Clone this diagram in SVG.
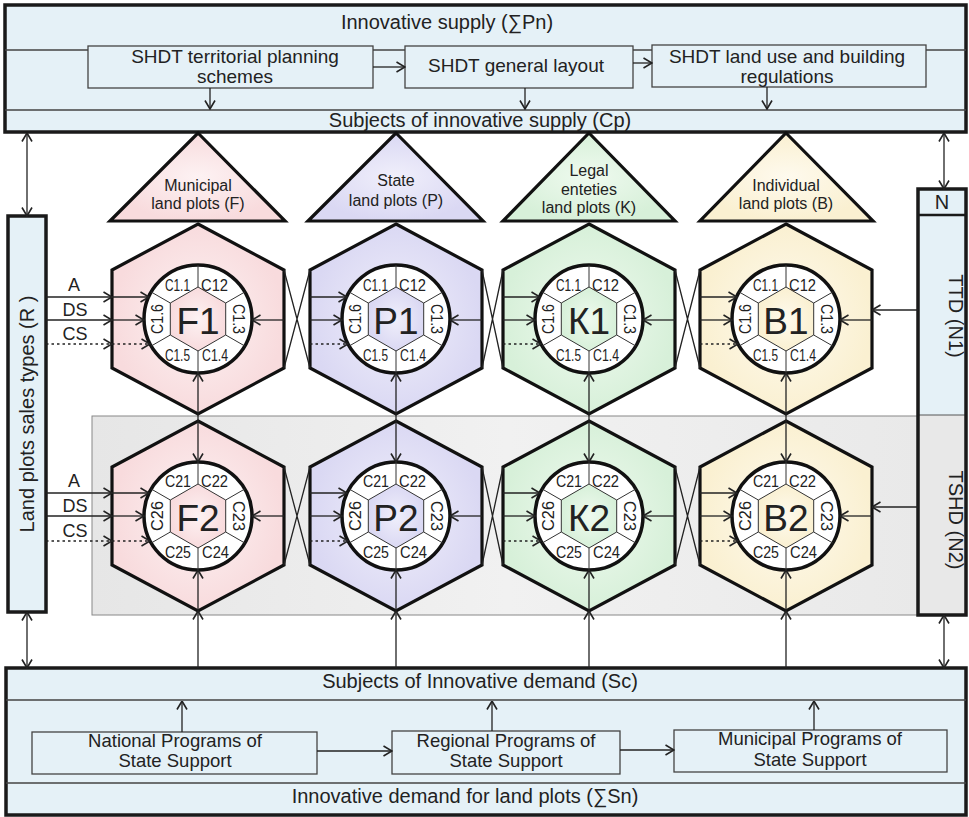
<svg xmlns="http://www.w3.org/2000/svg" width="969" height="817" viewBox="0 0 969 817">
<defs>
<style>
text{font-family:"Liberation Sans",Arial,sans-serif;fill:#222}
.big{font-size:20px}
.t19{font-size:19px}
.t18{font-size:18.5px}
.tri{font-size:16px}
.lab{font-size:18px}
.seg{font-size:17px}
.hl{font-size:37px}
.bx{fill:#e5f1f7;stroke:#1a1a1a;stroke-width:3.5}
.ib{fill:#e5f1f7;stroke:#444;stroke-width:1.3}
.sep{stroke:#444;stroke-width:1.3;fill:none}
.ln{stroke:#222;stroke-width:1.3;fill:none}
.ar{marker-end:url(#ah)}
.ar2{marker-start:url(#ah);marker-end:url(#ah)}
.dot{stroke-dasharray:2.5 3}
.hex{stroke:#111;stroke-width:3.2}
</style>
<marker id="ah" viewBox="0 0 10 12" refX="9.5" refY="6" markerWidth="10" markerHeight="12" markerUnits="userSpaceOnUse" orient="auto-start-reverse"><path d="M1,1 L9.5,6 L1,11" fill="none" stroke="#222" stroke-width="1.6"/></marker>
<radialGradient id="gF"><stop offset="0" stop-color="#fdf2f3"/><stop offset="1" stop-color="#f8dbdd"/></radialGradient>
<radialGradient id="gP"><stop offset="0" stop-color="#f0effb"/><stop offset="1" stop-color="#dad8f3"/></radialGradient>
<radialGradient id="gK"><stop offset="0" stop-color="#effaef"/><stop offset="1" stop-color="#d7f0d9"/></radialGradient>
<radialGradient id="gB"><stop offset="0" stop-color="#fefaee"/><stop offset="1" stop-color="#faf0d1"/></radialGradient>
<linearGradient id="gG" x1="0" y1="0" x2="1" y2="0"><stop offset="0" stop-color="#e6e6e6"/><stop offset="0.5" stop-color="#f1f1f1"/><stop offset="1" stop-color="#e9e9e9"/></linearGradient>
<path id="hexS" class="hex" d="M0,-95 L86,-49 L86,49 L0,95 L-86,49 L-86,-49Z"/>
<g id="cell">
<circle r="54" fill="#fff" stroke="#111" stroke-width="3.5"/>
<path d="M0,-32 L27.7,-16 L27.7,16 L0,32 L-27.7,16 L-27.7,-16Z" stroke="#333" stroke-width="1"/>
<path d="M0,-32V-54 M27.7,-16L46.8,-27 M27.7,16L46.8,27 M0,32V54 M-27.7,16L-46.8,27 M-27.7,-16L-46.8,-27" stroke="#333" stroke-width="1" fill="none"/>
</g>
</defs>
<rect width="969" height="817" fill="#fff"/>

<g id="tshd-band">
<rect x="92" y="416" width="830" height="199" fill="url(#gG)" stroke="#888" stroke-width="1"/>
</g>

<g id="innovative-supply">
<rect class="bx" x="5" y="5" width="961" height="127"/>
<path class="sep" d="M5,50H966 M5,110H966"/>
<text class="big" x="447" y="29" text-anchor="middle">Innovative supply (∑Pn)</text>
<text class="big" x="480" y="127" text-anchor="middle">Subjects of innovative supply (Cp)</text>
</g>
<g id="shdt-planning">
<rect class="ib" x="88" y="46" width="285" height="42"/>
<text class="t19" x="235" y="63" text-anchor="middle">SHDT territorial planning</text>
<text class="t19" x="235" y="83" text-anchor="middle">schemes</text>
</g>
<g id="shdt-layout">
<rect class="ib" x="405" y="46" width="228" height="42"/>
<text class="t19" x="516" y="72" text-anchor="middle">SHDT general layout</text>
</g>
<g id="shdt-regulations">
<rect class="ib" x="652" y="45" width="274" height="42"/>
<text class="t19" x="787" y="63" text-anchor="middle">SHDT land use and building</text>
<text class="t19" x="787" y="83" text-anchor="middle">regulations</text>
</g>

<g id="innovative-demand">
<rect class="bx" x="6" y="668" width="960" height="147"/>
<path class="sep" d="M6,700H966 M6,783H966"/>
<text class="big" x="480" y="688" text-anchor="middle">Subjects of Innovative demand (Sc)</text>
<text class="big" x="465" y="803" text-anchor="middle">Innovative demand for land plots (∑Sn)</text>
</g>
<g id="national">
<rect class="ib" x="32" y="732" width="285" height="42"/>
<text class="t18" x="175" y="747" text-anchor="middle">National Programs of</text>
<text class="t18" x="175" y="767" text-anchor="middle">State Support</text>
</g>
<g id="regional">
<rect class="ib" x="392" y="731" width="228" height="43"/>
<text class="t18" x="506" y="747" text-anchor="middle">Regional Programs of</text>
<text class="t18" x="506" y="767" text-anchor="middle">State Support</text>
</g>
<g id="municipal-programs">
<rect class="ib" x="674" y="730" width="273" height="42"/>
<text class="t18" x="810" y="745" text-anchor="middle">Municipal Programs of</text>
<text class="t18" x="810" y="766" text-anchor="middle">State Support</text>
</g>

<g id="sales-types">
<rect class="bx" x="8" y="216" width="38" height="396"/>
<text class="big" transform="translate(27,414) rotate(-90)" x="0" y="7" text-anchor="middle">Land plots sales types (R )</text>
</g>

<g id="n-panel">
<rect x="918" y="189" width="48" height="226" fill="#e5f1f7"/>
<rect x="918" y="415" width="48" height="200" fill="#e8e8e8"/>
<path d="M918,215H966" stroke="#1a1a1a" stroke-width="2.5"/>
<path d="M918,415H966" stroke="#555" stroke-width="1"/>
<rect x="918" y="189" width="48" height="426" fill="none" stroke="#1a1a1a" stroke-width="3.5"/>
<text class="big" x="942" y="209" text-anchor="middle">N</text>
<text class="big" transform="translate(942,316) rotate(90)" x="0" y="-7" text-anchor="middle">TTD (N1)</text>
<text class="big" transform="translate(942,520) rotate(90)" x="0" y="-7" text-anchor="middle">TSHD (N2)</text>
</g>

<g id="tri-F">
<path d="M198,133 L285,221 L110,221Z" fill="url(#gF)" stroke="#111" stroke-width="3.2"/>
<text class="tri" x="198" y="191" text-anchor="middle">Municipal</text>
<text class="tri" x="198" y="209" text-anchor="middle">land plots (F)</text>
</g>
<g id="tri-P">
<path d="M396,133 L483,221 L308,221Z" fill="url(#gP)" stroke="#111" stroke-width="3.2"/>
<text class="tri" x="396" y="186" text-anchor="middle">State</text>
<text class="tri" x="396" y="206" text-anchor="middle">land plots (P)</text>
</g>
<g id="tri-K">
<path d="M589,133 L675,221 L503,221Z" fill="url(#gK)" stroke="#111" stroke-width="3.2"/>
<text class="tri" x="589" y="176" text-anchor="middle">Legal</text>
<text class="tri" x="589" y="195" text-anchor="middle">enteties</text>
<text class="tri" x="589" y="213" text-anchor="middle">land plots (K)</text>
</g>
<g id="tri-B">
<path d="M786,133 L873,221 L700,221Z" fill="url(#gB)" stroke="#111" stroke-width="3.2"/>
<text class="tri" x="786" y="191" text-anchor="middle">Individual</text>
<text class="tri" x="786" y="209" text-anchor="middle">land plots (B)</text>
</g>

<g id="F1">
<use href="#hexS" x="198" y="319" fill="url(#gF)"/>
<use href="#cell" x="198" y="319" fill="url(#gF)"/>
<text class="hl" x="198" y="334" text-anchor="middle">F1</text>
<text class="seg" x="165" y="291" textLength="25" lengthAdjust="spacingAndGlyphs">C1.1</text>
<text class="seg" x="201" y="291" textLength="27" lengthAdjust="spacingAndGlyphs">C12</text>
<text class="seg" x="165" y="361" textLength="25" lengthAdjust="spacingAndGlyphs">C1.5</text>
<text class="seg" x="202" y="361" textLength="26" lengthAdjust="spacingAndGlyphs">C1.4</text>
<text class="seg" transform="translate(157,319) rotate(-90)" x="-15" y="6" textLength="30" lengthAdjust="spacingAndGlyphs">C1.6</text>
<text class="seg" transform="translate(239,319) rotate(90)" x="-15" y="6" textLength="30" lengthAdjust="spacingAndGlyphs">C1.3</text>
</g>
<g id="P1">
<use href="#hexS" x="396" y="319" fill="url(#gP)"/>
<use href="#cell" x="396" y="319" fill="url(#gP)"/>
<text class="hl" x="396" y="334" text-anchor="middle">P1</text>
<text class="seg" x="363" y="291" textLength="25" lengthAdjust="spacingAndGlyphs">C1.1</text>
<text class="seg" x="399" y="291" textLength="27" lengthAdjust="spacingAndGlyphs">C12</text>
<text class="seg" x="363" y="361" textLength="25" lengthAdjust="spacingAndGlyphs">C1.5</text>
<text class="seg" x="400" y="361" textLength="26" lengthAdjust="spacingAndGlyphs">C1.4</text>
<text class="seg" transform="translate(355,319) rotate(-90)" x="-15" y="6" textLength="30" lengthAdjust="spacingAndGlyphs">C1.6</text>
<text class="seg" transform="translate(437,319) rotate(90)" x="-15" y="6" textLength="30" lengthAdjust="spacingAndGlyphs">C1.3</text>
</g>
<g id="K1">
<use href="#hexS" x="589" y="319" fill="url(#gK)"/>
<use href="#cell" x="589" y="319" fill="url(#gK)"/>
<text class="hl" x="589" y="334" text-anchor="middle">К1</text>
<text class="seg" x="556" y="291" textLength="25" lengthAdjust="spacingAndGlyphs">C1.1</text>
<text class="seg" x="592" y="291" textLength="27" lengthAdjust="spacingAndGlyphs">C12</text>
<text class="seg" x="556" y="361" textLength="25" lengthAdjust="spacingAndGlyphs">C1.5</text>
<text class="seg" x="593" y="361" textLength="26" lengthAdjust="spacingAndGlyphs">C1.4</text>
<text class="seg" transform="translate(548,319) rotate(-90)" x="-15" y="6" textLength="30" lengthAdjust="spacingAndGlyphs">C1.6</text>
<text class="seg" transform="translate(630,319) rotate(90)" x="-15" y="6" textLength="30" lengthAdjust="spacingAndGlyphs">C1.3</text>
</g>
<g id="B1">
<use href="#hexS" x="786" y="319" fill="url(#gB)"/>
<use href="#cell" x="786" y="319" fill="url(#gB)"/>
<text class="hl" x="786" y="334" text-anchor="middle">B1</text>
<text class="seg" x="753" y="291" textLength="25" lengthAdjust="spacingAndGlyphs">C1.1</text>
<text class="seg" x="789" y="291" textLength="27" lengthAdjust="spacingAndGlyphs">C12</text>
<text class="seg" x="753" y="361" textLength="25" lengthAdjust="spacingAndGlyphs">C1.5</text>
<text class="seg" x="790" y="361" textLength="26" lengthAdjust="spacingAndGlyphs">C1.4</text>
<text class="seg" transform="translate(745,319) rotate(-90)" x="-15" y="6" textLength="30" lengthAdjust="spacingAndGlyphs">C1.6</text>
<text class="seg" transform="translate(827,319) rotate(90)" x="-15" y="6" textLength="30" lengthAdjust="spacingAndGlyphs">C1.3</text>
</g>

<g id="F2">
<use href="#hexS" x="198" y="516" fill="url(#gF)"/>
<use href="#cell" x="198" y="516" fill="url(#gF)"/>
<text class="hl" x="198" y="531" text-anchor="middle">F2</text>
<text class="seg" x="165" y="487" textLength="26" lengthAdjust="spacingAndGlyphs">C21</text>
<text class="seg" x="201" y="487" textLength="27" lengthAdjust="spacingAndGlyphs">C22</text>
<text class="seg" x="165" y="558" textLength="26" lengthAdjust="spacingAndGlyphs">C25</text>
<text class="seg" x="202" y="558" textLength="27" lengthAdjust="spacingAndGlyphs">C24</text>
<text class="seg" transform="translate(157,516) rotate(-90)" x="-15" y="6" textLength="30" lengthAdjust="spacingAndGlyphs">C26</text>
<text class="seg" transform="translate(239,516) rotate(90)" x="-15" y="6" textLength="30" lengthAdjust="spacingAndGlyphs">C23</text>
</g>
<g id="P2">
<use href="#hexS" x="396" y="516" fill="url(#gP)"/>
<use href="#cell" x="396" y="516" fill="url(#gP)"/>
<text class="hl" x="396" y="531" text-anchor="middle">P2</text>
<text class="seg" x="363" y="487" textLength="26" lengthAdjust="spacingAndGlyphs">C21</text>
<text class="seg" x="399" y="487" textLength="27" lengthAdjust="spacingAndGlyphs">C22</text>
<text class="seg" x="363" y="558" textLength="26" lengthAdjust="spacingAndGlyphs">C25</text>
<text class="seg" x="400" y="558" textLength="27" lengthAdjust="spacingAndGlyphs">C24</text>
<text class="seg" transform="translate(355,516) rotate(-90)" x="-15" y="6" textLength="30" lengthAdjust="spacingAndGlyphs">C26</text>
<text class="seg" transform="translate(437,516) rotate(90)" x="-15" y="6" textLength="30" lengthAdjust="spacingAndGlyphs">C23</text>
</g>
<g id="K2">
<use href="#hexS" x="589" y="516" fill="url(#gK)"/>
<use href="#cell" x="589" y="516" fill="url(#gK)"/>
<text class="hl" x="589" y="531" text-anchor="middle">К2</text>
<text class="seg" x="556" y="487" textLength="26" lengthAdjust="spacingAndGlyphs">C21</text>
<text class="seg" x="592" y="487" textLength="27" lengthAdjust="spacingAndGlyphs">C22</text>
<text class="seg" x="556" y="558" textLength="26" lengthAdjust="spacingAndGlyphs">C25</text>
<text class="seg" x="593" y="558" textLength="27" lengthAdjust="spacingAndGlyphs">C24</text>
<text class="seg" transform="translate(548,516) rotate(-90)" x="-15" y="6" textLength="30" lengthAdjust="spacingAndGlyphs">C26</text>
<text class="seg" transform="translate(630,516) rotate(90)" x="-15" y="6" textLength="30" lengthAdjust="spacingAndGlyphs">C23</text>
</g>
<g id="B2">
<use href="#hexS" x="786" y="516" fill="url(#gB)"/>
<use href="#cell" x="786" y="516" fill="url(#gB)"/>
<text class="hl" x="786" y="531" text-anchor="middle">B2</text>
<text class="seg" x="753" y="487" textLength="26" lengthAdjust="spacingAndGlyphs">C21</text>
<text class="seg" x="789" y="487" textLength="27" lengthAdjust="spacingAndGlyphs">C22</text>
<text class="seg" x="753" y="558" textLength="26" lengthAdjust="spacingAndGlyphs">C25</text>
<text class="seg" x="790" y="558" textLength="27" lengthAdjust="spacingAndGlyphs">C24</text>
<text class="seg" transform="translate(745,516) rotate(-90)" x="-15" y="6" textLength="30" lengthAdjust="spacingAndGlyphs">C26</text>
<text class="seg" transform="translate(827,516) rotate(90)" x="-15" y="6" textLength="30" lengthAdjust="spacingAndGlyphs">C23</text>
</g>

<g id="connectors">
<path class="ln ar" d="M373,67H405"/>
<path class="ln ar" d="M633,63H652"/>
<path class="ln ar" d="M210,88V109"/>
<path class="ln ar" d="M525,88V109"/>
<path class="ln ar" d="M767,87V109"/>
<path class="ln ar" d="M317,751H392"/>
<path class="ln ar" d="M620,750H674"/>
<path class="ln ar" d="M182,732V701"/>
<path class="ln ar" d="M492,731V701"/>
<path class="ln ar" d="M814,730V701"/>
<path class="ln ar2" d="M27,133V216"/>
<path class="ln ar2" d="M944,133V189"/>
<path class="ln ar2" d="M27,612V668"/>
<path class="ln ar2" d="M944,615V668"/>
<path class="ln ar" d="M918,310H872"/>
<path class="ln ar" d="M918,507H872"/>
<path class="ln" d="M284,270L310,368M284,368L310,270M482,270L503,368M482,368L503,270M675,270L700,368M675,368L700,270"/>
<path class="ln" d="M284,467L310,565M284,565L310,467M482,467L503,565M482,565L503,467M675,467L700,565M675,565L700,467"/>
<path class="ln ar" d="M46,297H112"/><path class="ln ar" d="M46,320H112"/><path class="ln ar dot" d="M46,344H112"/>
<path class="ln ar" d="M46,493H112"/><path class="ln ar" d="M46,516H112"/><path class="ln ar dot" d="M46,541H112"/>
<path class="ln ar" d="M112,297H149"/><path class="ln ar" d="M112,320H144"/><path class="ln ar dot" d="M112,344H150"/><path class="ln ar" d="M284,320H252"/>
<path class="ln ar" d="M310,297H347"/><path class="ln ar" d="M310,320H342"/><path class="ln ar dot" d="M310,344H348"/><path class="ln ar" d="M482,320H450"/>
<path class="ln ar" d="M503,297H540"/><path class="ln ar" d="M503,320H535"/><path class="ln ar dot" d="M503,344H541"/><path class="ln ar" d="M675,320H643"/>
<path class="ln ar" d="M700,297H737"/><path class="ln ar" d="M700,320H732"/><path class="ln ar dot" d="M700,344H738"/><path class="ln ar" d="M872,320H840"/>
<path class="ln ar" d="M112,493H149"/><path class="ln ar" d="M112,516H144"/><path class="ln ar dot" d="M112,541H150"/><path class="ln ar" d="M284,516H252"/>
<path class="ln ar" d="M310,493H347"/><path class="ln ar" d="M310,516H342"/><path class="ln ar dot" d="M310,541H348"/><path class="ln ar" d="M482,516H450"/>
<path class="ln ar" d="M503,493H540"/><path class="ln ar" d="M503,516H535"/><path class="ln ar dot" d="M503,541H541"/><path class="ln ar" d="M675,516H643"/>
<path class="ln ar" d="M700,493H737"/><path class="ln ar" d="M700,516H732"/><path class="ln ar dot" d="M700,541H738"/><path class="ln ar" d="M872,516H840"/>
<path class="ln ar2" d="M198,373V462"/><path class="ln ar2" d="M396,373V462"/><path class="ln ar2" d="M589,373V462"/><path class="ln ar2" d="M786,373V462"/>
<path class="ln ar" d="M198,668V611"/><path class="ln ar" d="M396,668V611"/><path class="ln ar" d="M589,668V611"/><path class="ln ar" d="M786,668V611"/>
<path class="ln ar" d="M198,611V570"/><path class="ln ar" d="M396,611V570"/><path class="ln ar" d="M589,611V570"/><path class="ln ar" d="M786,611V570"/>
<text class="lab" x="74" y="291" text-anchor="middle">A</text>
<text class="lab" x="75" y="316" text-anchor="middle">DS</text>
<text class="lab" x="75" y="340" text-anchor="middle">CS</text>
<text class="lab" x="74" y="487" text-anchor="middle">A</text>
<text class="lab" x="75" y="512" text-anchor="middle">DS</text>
<text class="lab" x="75" y="537" text-anchor="middle">CS</text>
</g>
</svg>
